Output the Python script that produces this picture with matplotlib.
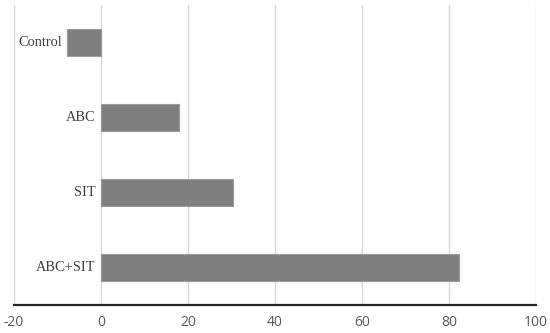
import matplotlib.pyplot as plt
import numpy as np

categories = ['Control', 'ABC', 'SIT', 'ABC+SIT']
values = [-7.8, 18.0, 30.3, 82.4]
xticks = [-20, 0, 20, 40, 60, 80, 100]

fig = plt.figure(figsize=(5.5, 3.33), dpi=100)
ax = fig.add_axes([14/550, 1-305/333, (536-14)/550, 300/333])

ypos = np.arange(len(categories))
ax.barh(ypos, values, height=0.35, color='#7f7f7f', edgecolor='#9a9a9a', linewidth=0.8, zorder=3)

for y, v, c in zip(ypos, values, categories):
    ax.annotate(c, (min(0, v), y), xytext=(-4, 0), textcoords='offset points',
                ha='right', va='center', family='Liberation Serif', fontsize=10.4, color='#404040')

ax.set_xlim(-20, 100)
ax.set_ylim(len(categories)-0.5, -0.5)
ax.set_xticks(xticks)
ax.set_xticklabels([str(t) for t in xticks], family='Open Sans', fontsize=10, color='#595959')
ax.set_yticks([])
ax.tick_params(axis='x', length=0, pad=7)
ax.grid(axis='x', color='#d9d9d9', linewidth=1, zorder=0)
for s in ['top', 'left', 'right']:
    ax.spines[s].set_visible(False)
ax.spines['bottom'].set_color('#262626')
ax.spines['bottom'].set_linewidth(1.6)
ax.spines['bottom'].set_zorder(4)

fig.savefig('out.png', dpi=100)
